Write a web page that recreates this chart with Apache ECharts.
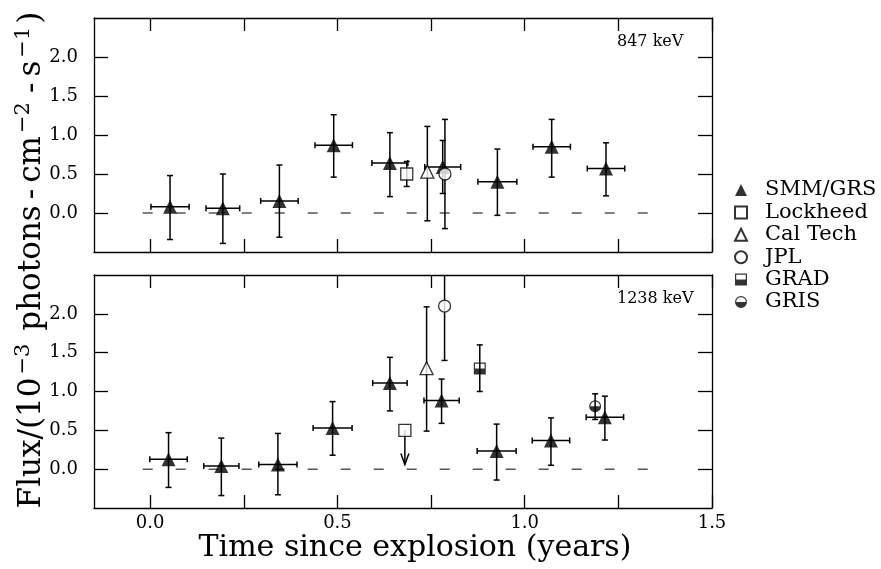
<!DOCTYPE html>
<html>
<head>
<meta charset="utf-8">
<script src="https://cdn.jsdelivr.net/npm/echarts@6/dist/echarts.min.js"></script>
<style>
html, body { margin: 0; padding: 0; background: #fff; }
#main { width: 881px; height: 569px; }
</style>
</head>
<body>
<div id="main"></div>
<script>
// 坐标轴刻度
var timeTicks = [0, 0.25, 0.5, 0.75, 1.0, 1.25, 1.5];
var timeLabels = [0, 0.5, 1.0, 1.5];
var fluxTicks = [0, 0.5, 1.0, 1.5, 2.0];
var zeroLine = [-0.02, 1.35];

// 847 keV  [time, time half width, flux, flux low, flux high]
var smm847 = [
	[0.053, 0.051, 0.08, -0.34, 0.48],
	[0.194, 0.045, 0.06, -0.39, 0.50],
	[0.345, 0.050, 0.155, -0.31, 0.615],
	[0.490, 0.050, 0.87, 0.46, 1.26],
	[0.640, 0.048, 0.64, 0.21, 1.03],
	[0.781, 0.048, 0.59, 0.25, 0.93],
	[0.927, 0.052, 0.40, -0.03, 0.82],
	[1.072, 0.050, 0.85, 0.46, 1.20],
	[1.217, 0.050, 0.57, 0.22, 0.90]
];
var lockheed847 = [[0.685, 0, 0.50, 0.34, 0.66]];
var caltech847 = [[0.740, 0, 0.53, -0.10, 1.11]];
var jpl847 = [[0.787, 0, 0.50, -0.20, 1.20]];

// 1238 keV
var smm1238 = [
	[0.049, 0.050, 0.128, -0.235, 0.47],
	[0.190, 0.047, 0.04, -0.34, 0.40],
	[0.341, 0.051, 0.06, -0.33, 0.46],
	[0.487, 0.052, 0.53, 0.18, 0.87],
	[0.640, 0.046, 1.11, 0.75, 1.44],
	[0.778, 0.047, 0.885, 0.59, 1.16],
	[0.925, 0.052, 0.235, -0.14, 0.58],
	[1.070, 0.050, 0.37, 0.05, 0.66],
	[1.214, 0.050, 0.67, 0.375, 0.94]
];
// 上限 [time, flux, arrow tip]
var lockheed1238 = [[0.680, 0.50, 0.06]];
var caltech1238 = [[0.738, 0, 1.30, 0.49, 2.09]];
var jpl1238 = [[0.786, 0, 2.10, 1.40, 2.90]];
var grad1238 = [[0.880, 0, 1.295, 1.00, 1.60]];
var gris1238 = [[1.188, 0, 0.81, 0.64, 0.97]];

var FONT = 'DejaVu Serif';
var gradIcon = 'path://M0,0L10,0L10,10L0,10Z M1,1L1,5L9,5L9,1Z';
var grisIcon = 'path://M0,5A5,5 0 1,1 10,5A5,5 0 1,1 0,5Z M1,5L9,5A4,4 0 0,0 1,5Z';

function renderErr(params, api) {
	var t = api.value(0), dt = api.value(1), f = api.value(2);
	var lo = api.coord([t, api.value(3)]);
	var hi = api.coord([t, api.value(4)]);
	var st = { stroke: '#000', lineWidth: 1.5 };
	var c = 3;
	var kids = [
		{ type: 'line', shape: { x1: lo[0], y1: lo[1], x2: hi[0], y2: hi[1] }, style: st },
		{ type: 'line', shape: { x1: lo[0] - c, y1: lo[1], x2: lo[0] + c, y2: lo[1] }, style: st },
		{ type: 'line', shape: { x1: hi[0] - c, y1: hi[1], x2: hi[0] + c, y2: hi[1] }, style: st }
	];
	if (dt > 0) {
		var l = api.coord([t - dt, f]);
		var r = api.coord([t + dt, f]);
		kids.push(
			{ type: 'line', shape: { x1: l[0], y1: l[1], x2: r[0], y2: r[1] }, style: st },
			{ type: 'line', shape: { x1: l[0], y1: l[1] - c, x2: l[0], y2: l[1] + c }, style: st },
			{ type: 'line', shape: { x1: r[0], y1: r[1] - c, x2: r[0], y2: r[1] + c }, style: st }
		);
	}
	return { type: 'group', children: kids };
}

function renderLimit(params, api) {
	var top = api.coord([api.value(0), api.value(1)]);
	var tip = api.coord([api.value(0), api.value(2)]);
	var st = { stroke: '#000', lineWidth: 1.5, fill: null };
	return {
		type: 'group',
		children: [
			{ type: 'line', shape: { x1: top[0], y1: top[1], x2: tip[0], y2: tip[1] }, style: st },
			{ type: 'polyline', shape: { points: [[tip[0] - 4, tip[1] - 11], [tip[0], tip[1]], [tip[0] + 4, tip[1] - 11]] }, style: st }
		]
	};
}

function errSeries(data, idx) {
	return {
		type: 'custom', xAxisIndex: idx * 2, yAxisIndex: idx * 2,
		renderItem: renderErr, data: data, clip: true, z: 2,
		encode: { x: 0, y: 2 }, silent: true
	};
}

function dotSeries(name, data, idx, symbol, size, filled) {
	return {
		name: name, type: 'scatter', xAxisIndex: idx * 2, yAxisIndex: idx * 2,
		symbol: symbol, symbolSize: size, symbolKeepAspect: true, z: 5,
		itemStyle: filled ? { color: '#000' } : { color: '#fff', borderColor: '#000', borderWidth: 1.3 },
		data: data.map(function (d) { return [d[0], d[2]]; })
	};
}

function zeroSeries(idx) {
	return {
		type: 'line', xAxisIndex: idx * 2, yAxisIndex: idx * 2, symbol: 'none', silent: true, z: 1,
		lineStyle: { color: '#000', width: 1, type: [10, 23] },
		data: [[zeroLine[0], 0], [zeroLine[1], 0]]
	};
}

var grids = [
	{ left: 94, top: 18, width: 618, height: 234 },
	{ left: 94, top: 275, width: 618, height: 233 }
];

var xAxes = [], yAxes = [];
[0, 1].forEach(function (g) {
	['bottom', 'top'].forEach(function (pos) {
		xAxes.push({
			type: 'value', gridIndex: g, position: pos, min: -0.15, max: 1.5,
			axisLine: { show: true, onZero: false, lineStyle: { color: '#000', width: 1.3 } },
			axisTick: { show: true, inside: true, length: 13, customValues: timeTicks, lineStyle: { color: '#000', width: 1.3 } },
			axisLabel: {
				show: g === 1 && pos === 'bottom', customValues: timeLabels, margin: 6,
				color: '#000', fontFamily: FONT, fontSize: 18,
				formatter: function (v) { return v.toFixed(1); }
			},
			splitLine: { show: false }
		});
	});
	['left', 'right'].forEach(function (pos) {
		yAxes.push({
			type: 'value', gridIndex: g, position: pos, min: -0.5, max: 2.5,
			axisLine: { show: true, onZero: false, lineStyle: { color: '#000', width: 1.3 } },
			axisTick: { show: true, inside: true, length: 14, customValues: fluxTicks, lineStyle: { color: '#000', width: 1.3 } },
			axisLabel: {
				show: pos === 'left', customValues: fluxTicks, margin: 16,
				color: '#000', fontFamily: FONT, fontSize: 18,
				formatter: function (v) { return v.toFixed(1); }
			},
			splitLine: { show: false }
		});
	});
});

var series = [
	zeroSeries(0), zeroSeries(1),
	errSeries(smm847.concat(lockheed847, caltech847, jpl847), 0),
	errSeries(smm1238.concat(caltech1238, jpl1238, grad1238, gris1238), 1),
	{
		type: 'custom', xAxisIndex: 2, yAxisIndex: 2, renderItem: renderLimit,
		data: lockheed1238, clip: true, z: 2, encode: { x: 0, y: 1 }, silent: true
	},
	dotSeries('SMM/GRS', smm847, 0, 'triangle', 14, true),
	dotSeries('Lockheed', lockheed847, 0, 'rect', 12, false),
	dotSeries('Cal Tech', caltech847, 0, 'triangle', 13, false),
	dotSeries('JPL', jpl847, 0, 'circle', 12, false),
	dotSeries('SMM/GRS', smm1238, 1, 'triangle', 14, true),
	{
		name: 'Lockheed', type: 'scatter', xAxisIndex: 2, yAxisIndex: 2,
		symbol: 'rect', symbolSize: 12, z: 5,
		itemStyle: { color: '#fff', borderColor: '#000', borderWidth: 1.3 },
		data: lockheed1238.map(function (d) { return [d[0], d[1]]; })
	},
	dotSeries('Cal Tech', caltech1238, 1, 'triangle', 13, false),
	dotSeries('JPL', jpl1238, 1, 'circle', 12, false),
	dotSeries('GRAD', grad1238, 1, gradIcon, 12, true),
	dotSeries('GRIS', gris1238, 1, grisIcon, 12, true)
];

var myChart = echarts.init(document.getElementById('main'));
myChart.setOption({
	backgroundColor: '#fff',
	animation: false,
	grid: grids,
	xAxis: xAxes,
	yAxis: yAxes,
	legend: {
		orient: 'vertical', left: 729, top: 174,
		itemWidth: 12, itemHeight: 12, itemGap: 0.4,
		selectedMode: false,
		textStyle: { color: '#000', fontFamily: FONT, fontSize: 21, lineHeight: 22, padding: [0, 0, 0, 13] },
		data: ['SMM/GRS', 'Lockheed', 'Cal Tech', 'JPL', 'GRAD', 'GRIS']
	},
	graphic: [
		{ type: 'text', x: 617, y: 42, style: { text: '847 keV', font: '16px "DejaVu Serif"', fill: '#000', verticalAlign: 'middle' } },
		{ type: 'text', x: 617, y: 299, style: { text: '1238 keV', font: '16px "DejaVu Serif"', fill: '#000', verticalAlign: 'middle' } },
		{ type: 'text', x: 415, y: 548, style: { text: 'Time since explosion (years)', font: '30px "DejaVu Serif"', fill: '#000', align: 'center', verticalAlign: 'middle' } },
		{
			type: 'text', x: 32, y: 260, rotation: Math.PI / 2,
			style: {
				text: '{m|Flux/(10}{s|−3}{m| photons}{h|-}{m|cm}{s|−2}{h|-}{m|s}{s|−1}{m|)}',
				align: 'center', verticalAlign: 'middle', fill: '#000',
				rich: {
					m: { fontFamily: FONT, fontSize: 31, lineHeight: 38, fill: '#000' },
					h: { fontFamily: FONT, fontSize: 31, lineHeight: 38, fill: '#000', padding: [0, 6, 0, 6] },
					s: { fontFamily: FONT, fontSize: 21, lineHeight: 26, verticalAlign: 'top', fill: '#000', padding: [0, 3, 0, 3] }
				}
			}
		}
	],
	series: series
});
</script>
</body>
</html>
